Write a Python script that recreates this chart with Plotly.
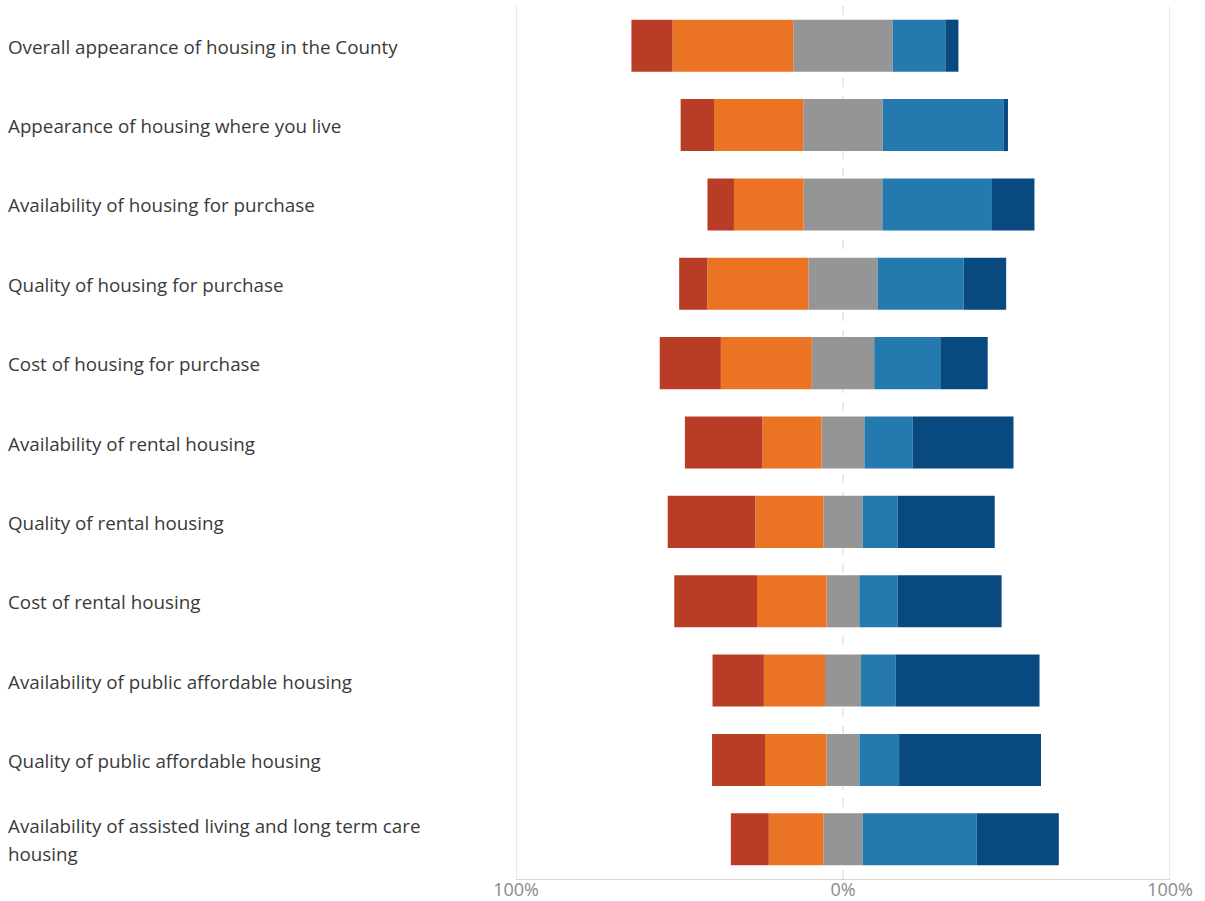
import plotly.graph_objects as go

# Survey items (top to bottom) and share of responses per rating, in percent
categories = [
    "Overall appearance of housing in the County",
    "Appearance of housing where you live",
    "Availability of housing for purchase",
    "Quality of housing for purchase",
    "Cost of housing for purchase",
    "Availability of rental housing",
    "Quality of rental housing",
    "Cost of rental housing",
    "Availability of public affordable housing",
    "Quality of public affordable housing",
    "Availability of assisted living and long term care\nhousing",
]

very_poor = [12.6, 10.2, 8.1, 8.6, 18.7, 23.7, 26.8, 25.3, 15.7, 16.2, 11.6]
poor = [36.9, 27.3, 21.3, 30.9, 27.8, 18.1, 20.8, 21.3, 18.7, 18.8, 16.7]
neutral = [30.4, 24.3, 24.1, 21.2, 19.1, 13.1, 12.0, 10.0, 11.0, 10.1, 12.0]
good = [16.1, 36.9, 33.5, 26.3, 20.2, 14.7, 10.7, 11.7, 10.6, 12.1, 34.9]
very_good = [4.0, 1.4, 13.0, 13.0, 14.5, 30.9, 29.7, 31.8, 44.0, 43.4, 25.1]

axis_ticks = [-100, 0, 100]
axis_tick_text = ["100%", "0%", "100%"]

colors = {
    "very_poor": "#B93C26",
    "poor": "#EB7324",
    "neutral": "#959595",
    "good": "#2479AF",
    "very_good": "#084A80",
}

fig = go.Figure()


def add_segment(values, color, sign=1.0, scale=1.0):
    fig.add_trace(go.Bar(
        y=categories,
        x=[sign * v * scale for v in values],
        customdata=values,
        orientation="h",
        marker=dict(color=color, line=dict(width=0)),
        hovertemplate="%{y}: %{customdata:.1f}%<extra></extra>",
        showlegend=False,
    ))


# Negative side stacks outward from zero: half of neutral, then poor, then very poor
add_segment(neutral, colors["neutral"], -1, 0.5)
add_segment(poor, colors["poor"], -1)
add_segment(very_poor, colors["very_poor"], -1)
# Positive side: other half of neutral, then good, then very good
add_segment(neutral, colors["neutral"], 1, 0.5)
add_segment(good, colors["good"], 1)
add_segment(very_good, colors["very_good"], 1)

# Reference lines at both ends and a dashed centre line
for xv in axis_ticks:
    fig.add_shape(
        type="line", xref="x", yref="paper", x0=xv, x1=xv, y0=0, y1=1,
        line=dict(color="#E3E3E3" if xv == 0 else "#D6D6D6",
                  width=1.5 if xv == 0 else 1,
                  dash="dash" if xv == 0 else "solid"),
        layer="below",
    )

# Left-aligned item labels in the left margin
label_font = dict(family="Open Sans, sans-serif", size=18.8, color="#3A3A3A")
plot_left = 515.5
plot_width = 655
for cat in categories:
    lines = cat.split("\n")
    n = len(lines)
    for i, line in enumerate(lines):
        fig.add_annotation(
            x=(5 - plot_left) / plot_width, xref="paper", xanchor="left",
            y=cat, yref="y", yanchor="middle",
            yshift=(n - 1) * 14 - i * 28 - 1,
            text=line, showarrow=False, align="left", font=label_font,
        )

fig.update_layout(
    width=1205,
    height=901,
    margin=dict(l=plot_left, r=1205 - plot_left - plot_width, t=5.5, b=21.5),
    barmode="relative",
    bargap=0.344,
    plot_bgcolor="white",
    paper_bgcolor="white",
    xaxis=dict(
        range=[-100, 100],
        tickmode="array",
        tickvals=axis_ticks,
        ticktext=axis_tick_text,
        showgrid=False,
        zeroline=False,
        showline=True,
        linecolor="#D6D6D6",
        linewidth=1,
        ticks="",
        ticklabelstandoff=-6,
        tickfont=dict(family="Open Sans, sans-serif", size=18, color="#8A8A8A"),
        automargin=False,
        fixedrange=True,
    ),
    yaxis=dict(
        autorange="reversed",
        showticklabels=False,
        showgrid=False,
        zeroline=False,
        showline=False,
        ticks="",
        automargin=False,
        fixedrange=True,
    ),
)

fig.write_html("out.html")
